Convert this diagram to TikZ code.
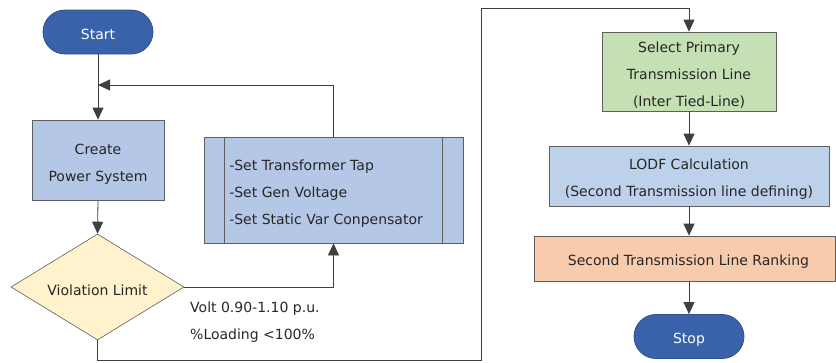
\documentclass[tikz,border=0pt]{standalone}
\usepackage{fontspec}
\setmainfont{DejaVu Sans}
\usetikzlibrary{shapes.geometric,arrows.meta,calc}
\definecolor{termfill}{HTML}{3A62AA}
\definecolor{termline}{HTML}{2F4F8A}
\definecolor{procblue}{HTML}{B4C7E7}
\definecolor{lodfblue}{HTML}{BDD1EB}
\definecolor{decyellow}{HTML}{FFF2CC}
\definecolor{selgreen}{HTML}{C5E0B4}
\definecolor{rankorange}{HTML}{F8CBAD}
\definecolor{edgegray}{HTML}{5E5E5E}
\definecolor{wiregray}{HTML}{3F3F3F}
\tikzset{
  every node/.style={font=\fontsize{14}{27}\selectfont, text=black!85},
  terminal/.style={draw=termline, fill=termfill, rounded corners=22pt,
    minimum width=110pt, minimum height=44pt, inner sep=0pt, line width=0.8pt},
  procbox/.style={draw=edgegray, line width=0.8pt, inner sep=0pt},
  decision/.style={draw=edgegray, fill=decyellow, diamond, aspect=1.63,
    line width=0.6pt, minimum width=173pt, minimum height=106pt, inner sep=0pt},
  boxtext/.style={inner sep=0pt, align=center},
  plain/.style={inner sep=0pt, anchor=base west},
  wire/.style={draw=wiregray, line width=0.8pt},
  arr/.style={wire, -{Triangle[length=12pt,width=11pt]}},
}
\begin{document}
\begin{tikzpicture}[x=1pt,y=-1pt]
\useasboundingbox (0,0) rectangle (836,362);

% left column
\node[terminal] (start) at (98,32) {};
\node[boxtext, text=white] (starttxt) at ($(start)+(0,2.5)$) {Start};
\node[procbox, fill=procblue, minimum width=132pt, minimum height=80pt]
  (create) at (98,160) {};
\node[boxtext] (createtxt) at ($(create)+(0,4)$) {Create\\Power System};
\node[decision] (viol) at (97.5,287) {};
\node[boxtext] (violtxt) at ($(viol)+(0,3.5)$) {Violation Limit};

% corrective actions (subroutine box)
\node[procbox, fill=procblue, minimum width=259pt, minimum height=106pt]
  (sub) at (333.5,190) {};
\draw[edgegray, line width=0.8pt]
  ($(sub.north west)+(21,0)$) -- ($(sub.south west)+(21,0)$)
  ($(sub.north east)+(-21,0)$) -- ($(sub.south east)+(-21,0)$);
\node[boxtext, align=left, anchor=west] (subtxt) at ($(sub.west)+(25.5,4)$)
  {-Set Transformer Tap\\-Set Gen Voltage\\-Set Static Var Conpensator};

\node[plain] (crit1) at (190,312) {Volt 0.90-1.10 p.u.};
\node[plain] (crit2) at (190,339) {\%Loading <100\%};

% right column
\node[procbox, fill=selgreen, minimum width=174pt, minimum height=79pt]
  (sel) at (689,71.5) {};
\node[boxtext] (seltxt) at ($(sel)+(0,3.5)$)
  {Select Primary\\Transmission Line\\(Inter Tied-Line)};
\node[procbox, fill=lodfblue, minimum width=280pt, minimum height=60pt]
  (lodf) at (689,176) {};
\node[boxtext] (lodftxt) at ($(lodf)+(0,3.5)$)
  {LODF Calculation\\(Second Transmission line defining)};
\node[procbox, fill=rankorange, minimum width=301pt, minimum height=45pt]
  (rank) at (684.5,258.5) {};
\node[boxtext] (ranktxt) at ($(rank)+(4,3.5)$) {Second Transmission Line Ranking};
\node[terminal] (stop) at (689,336.5) {};
\node[boxtext, text=white] (stoptxt) at ($(stop)+(0,3.5)$) {Stop};

% connectors
\coordinate (join) at (98,85);
\coordinate (low) at (481,360);
\coordinate (high) at (481,8);
\draw[arr] (start.south) -- (create.north);
\draw[arr] (sub.north) |- (join);
\draw[arr] (create.south) -- (viol.north);
\draw[arr] (viol.east) -| (sub.south);
\draw[arr] (viol.south) |- (low) -- (high) -| (sel.north);
\draw[arr] (sel.south) -- (lodf.north);
\draw[arr] (lodf.south) -- (lodf.south |- rank.north);
\draw[arr] (lodf.south |- rank.south) -- (stop.north);
\end{tikzpicture}
\end{document}
